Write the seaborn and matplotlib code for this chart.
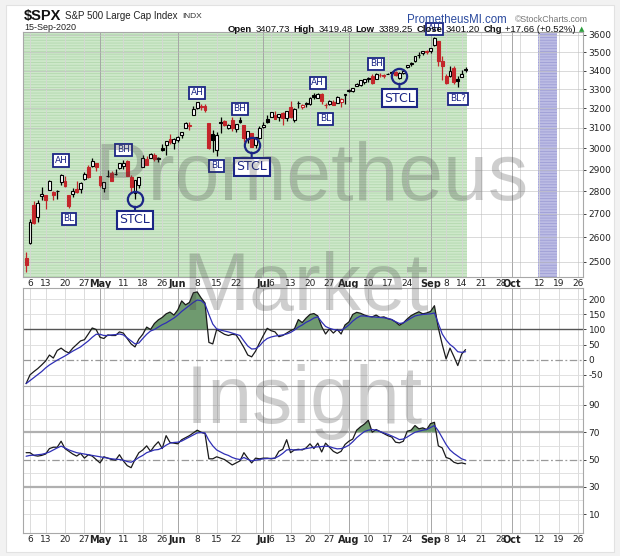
import numpy as np
import pandas as pd
import matplotlib
matplotlib.use("Agg")
import matplotlib.pyplot as plt
from matplotlib.patches import Rectangle
from matplotlib.ticker import FixedLocator, FixedFormatter, NullLocator
import seaborn as sns

sns.set_style("white")
plt.rcParams["font.family"] = ["DejaVu Sans"]
plt.rcParams["hatch.linewidth"] = 0.6

# SPX daily bars, 3-Apr-2020 .. 15-Sep-2020
prev_close = 2526.90
opens = [2514.92, 2578.28, 2738.65, 2685.00, 2776.99, 2782.46, 2805.10, 2795.64, 2799.34, 2842.43,
         2845.62, 2784.81, 2787.89, 2810.42, 2812.64, 2854.65, 2909.96, 2918.46, 2930.91,
         2869.09, 2815.01, 2868.88, 2883.14, 2878.26, 2908.83, 2915.46, 2939.50, 2865.86, 2794.54,
         2829.95, 2913.86, 2948.59, 2953.63, 2969.95, 2948.05, 3004.08, 3015.65, 3046.61, 3025.17,
         3038.78, 3064.78, 3098.90, 3111.56, 3163.84, 3199.92, 3213.32, 3213.42, 3123.53, 3071.04,
         2993.76, 3131.00, 3136.13, 3101.64, 3140.29, 3094.42, 3138.70, 3114.40, 3046.60, 3073.20,
         3018.59, 3050.20,
         3105.92, 3143.64, 3155.29, 3166.44, 3153.07, 3176.17, 3152.47, 3205.08, 3141.11, 3225.98,
         3208.36, 3224.21, 3224.29, 3268.52, 3254.86, 3271.64, 3218.58, 3219.84, 3234.27, 3227.22,
         3231.76, 3270.45,
         3288.26, 3289.92, 3317.37, 3323.17, 3340.05, 3356.04, 3370.34, 3355.46, 3372.95, 3368.66,
         3380.86, 3387.04, 3392.51, 3360.48, 3386.01, 3418.09, 3435.95, 3449.97, 3485.14, 3494.69,
         3509.73,
         3507.44, 3543.76, 3564.74, 3453.60, 3371.88, 3369.82, 3412.56, 3352.70, 3363.56, 3407.73]
highs = [2538.18, 2676.85, 2756.89, 2760.75, 2818.57, 2782.46, 2851.85, 2801.88, 2806.51, 2879.22,
         2868.98, 2785.54, 2815.10, 2844.90, 2842.71, 2887.72, 2921.15, 2954.86, 2930.91,
         2869.09, 2844.24, 2898.23, 2891.11, 2901.92, 2932.16, 2944.25, 2945.82, 2874.14, 2852.80,
         2865.01, 2968.09, 2964.21, 2980.29, 2978.50, 2956.76, 3021.72, 3036.25, 3068.67, 3049.17,
         3062.18, 3081.07, 3130.94, 3128.91, 3211.72, 3233.13, 3222.71, 3223.27, 3123.53, 3088.42,
         3079.76, 3153.45, 3141.16, 3120.00, 3155.53, 3120.92, 3154.90, 3115.01, 3086.25, 3073.73,
         3053.89, 3111.51,
         3128.44, 3165.81, 3182.59, 3184.15, 3171.80, 3179.78, 3186.82, 3235.32, 3200.95, 3238.28,
         3220.39, 3233.52, 3258.61, 3277.29, 3279.32, 3279.99, 3227.26, 3241.43, 3243.72, 3264.74,
         3250.92, 3272.17,
         3302.73, 3306.84, 3330.77, 3351.03, 3352.54, 3363.29, 3381.01, 3387.89, 3387.24, 3378.51,
         3387.59, 3395.06, 3399.54, 3390.80, 3399.96, 3432.09, 3444.21, 3481.07, 3501.38, 3509.23,
         3514.77,
         3528.03, 3588.11, 3564.85, 3479.15, 3379.97, 3424.77, 3425.55, 3368.95, 3402.93, 3419.48]
lows = [2459.96, 2574.57, 2657.67, 2663.30, 2762.36, 2721.17, 2805.10, 2761.54, 2764.32, 2830.88,
        2820.43, 2727.10, 2775.95, 2794.26, 2791.76, 2852.89, 2860.71, 2912.16, 2892.47,
        2821.61, 2797.85, 2863.55, 2847.65, 2876.48, 2902.88, 2903.44, 2869.59, 2793.15, 2766.64,
        2816.78, 2913.86, 2922.35, 2953.63, 2938.57, 2933.59, 2988.17, 2969.75, 3023.40, 2998.61,
        3031.54, 3051.64, 3098.90, 3090.41, 3163.84, 3196.00, 3193.11, 3181.49, 2999.49, 2984.47,
        2965.66, 3076.06, 3108.03, 3093.51, 3083.11, 3079.39, 3127.12, 3032.13, 3024.01, 3004.63,
        2999.74, 3047.83,
        3101.17, 3124.52, 3155.29, 3142.93, 3136.53, 3115.70, 3136.22, 3149.43, 3127.66, 3200.76,
        3198.59, 3205.65, 3215.16, 3247.77, 3253.10, 3222.66, 3200.05, 3214.25, 3216.17, 3227.22,
        3204.13, 3220.26,
        3284.53, 3286.37, 3317.37, 3318.14, 3328.72, 3335.44, 3326.44, 3355.46, 3363.35, 3361.64,
        3379.22, 3370.15, 3369.66, 3354.69, 3379.31, 3413.13, 3425.84, 3444.15, 3468.35, 3484.32,
        3493.25,
        3494.60, 3535.23, 3427.41, 3349.63, 3329.27, 3366.84, 3329.25, 3310.47, 3363.56, 3389.25]
closes = [2488.65, 2663.68, 2659.41, 2749.98, 2789.82, 2761.63, 2846.06, 2783.36, 2799.55, 2874.56,
          2823.16, 2736.56, 2799.31, 2797.80, 2836.74, 2878.48, 2863.39, 2939.51, 2912.43,
          2830.71, 2842.74, 2868.44, 2848.42, 2881.19, 2929.80, 2930.32, 2870.12, 2820.00, 2852.50,
          2863.70, 2953.91, 2922.94, 2971.61, 2948.51, 2955.45, 2991.77, 3036.13, 3029.73, 3044.31,
          3055.73, 3080.82, 3122.87, 3112.35, 3193.93, 3232.39, 3207.18, 3190.14, 3002.10, 3041.31,
          3066.59, 3124.74, 3113.49, 3115.34, 3097.74, 3117.86, 3131.29, 3050.33, 3083.76, 3009.05,
          3053.24, 3100.29,
          3115.86, 3130.01, 3179.72, 3145.32, 3169.94, 3152.05, 3185.04, 3155.22, 3197.52, 3226.56,
          3215.57, 3224.73, 3251.84, 3257.30, 3276.02, 3235.66, 3215.63, 3239.41, 3218.44, 3258.44,
          3246.22, 3271.12,
          3294.61, 3306.51, 3327.77, 3349.16, 3351.28, 3360.47, 3333.69, 3380.35, 3373.43, 3372.85,
          3381.99, 3389.78, 3374.85, 3385.51, 3397.16, 3431.28, 3443.62, 3478.73, 3484.55, 3508.01,
          3500.31,
          3526.65, 3580.84, 3455.06, 3426.96, 3331.84, 3398.96, 3339.19, 3340.97, 3383.54, 3401.20]

# indicator panels (one value per bar)
cci = [-80, -51, -40, -30, -18, -5, 15, 5, 30, 38, 28, 22, 38, 50, 62, 66, 85, 105, 100, 74,
       70, 82, 80, 80, 92, 88, 70, 52, 42, 68, 84, 108, 100, 120, 132, 140, 152, 158, 148, 165,
       195, 182, 190, 222, 225, 205, 188, 57, 52, 100, 92, 84, 80, 84, 82, 62, 40, 15, 9, 28,
       55, 80, 104, 96, 92, 76, 80, 88, 96, 102, 133, 123, 138, 150, 153, 145, 110, 85, 102, 88,
       100, 85, 115, 125, 150, 157, 154, 148, 144, 142, 148, 140, 142, 136, 133, 125, 114, 122, 135, 146,
       153, 159, 152, 155, 160, 179, 105, 50, 2, 38, 10, -20, 18, 33]
cci_ma = [-80, -70, -60, -50, -40, -28, -18, -10, -2, 5, 12, 20, 28, 35, 42, 52, 62, 74, 84, 84,
          80, 80, 82, 83, 85, 82, 72, 62, 52, 55, 70, 84, 95, 100, 108, 116, 122, 130, 138, 148,
          160, 170, 180, 190, 198, 196, 185, 150, 118, 102, 98, 95, 92, 88, 84, 80, 62, 45, 35, 36,
          45, 60, 70, 75, 78, 80, 82, 85, 90, 98, 108, 115, 124, 130, 138, 142, 125, 110, 104, 100,
          98, 97, 105, 115, 128, 138, 145, 145, 143, 142, 141, 140, 139, 137, 133, 126, 120, 122, 130, 138,
          145, 148, 150, 151, 152, 155, 120, 85, 65, 50, 40, 26, 24, 26]
rsi = [55, 55, 53, 52.5, 53, 54, 58, 59, 59, 63.4, 58, 56, 54, 52.5, 54.5, 51, 53.5, 52.5, 50, 47.5,
       52, 51, 50, 49.5, 53.5, 49, 45.5, 44, 50, 55, 57, 60, 56, 60, 63, 58, 67.5, 62.5, 62, 61.5,
       64.5, 66, 67.5, 69.5, 71.5, 70, 69, 50.5, 50.5, 52, 51, 50, 48, 46, 47.5, 49, 55, 51, 47.5, 51,
       50.5, 51, 51, 50.5, 51, 56, 57.5, 64.5, 55, 57, 57.5, 57, 58.5, 61.5, 58, 62, 55.5, 62, 59, 56,
       54.5, 56, 61, 63.4, 65, 71.5, 74, 76, 78.8, 70, 72, 70.5, 69, 67.5, 66.5, 62.7, 62.2, 63.4, 70.7, 71.5,
       74.9, 72.5, 73.2, 72, 76.3, 77.3, 60, 58.5, 51.5, 50.5, 48, 47, 47.5, 46.8]
rsi_ma = [52.4, 53, 53.2, 53.5, 53.8, 54.5, 55.5, 57, 58.5, 59.8, 58.5, 57, 56, 55, 54.5, 54, 53.5, 53, 52.5, 52,
          51.5, 51, 50.5, 50.2, 50, 49.5, 48.5, 48, 49.5, 51.5, 53, 55, 56, 57, 57.3, 58.5, 60.5, 62, 62.5, 62.7,
          63.5, 65, 66.5, 68, 69.5, 69.7, 69.5, 64, 60, 57, 55.5, 54, 53, 51.5, 50.5, 50, 51.5, 50, 49, 49.5,
          50, 50.5, 50.7, 50.8, 51, 52.5, 54.5, 57, 57.3, 57, 57, 57.5, 58, 58.5, 59, 59.3, 59.5, 59.8, 59.5, 58.5,
          57.8, 58, 59, 60.5, 63, 66, 68.3, 70.5, 71.5, 72, 71.5, 70.5, 69.5, 68.5, 67.3, 66, 64.6, 65, 66.5, 68.3,
          70, 70.7, 71.5, 72, 73.5, 74.9, 71, 66, 61, 57, 54.5, 52.5, 50.5, 49.5]

holidays = ["2020-04-10", "2020-05-25", "2020-07-03", "2020-09-07"]
tick_dates = ["2020-04-06", "2020-04-13", "2020-04-20", "2020-04-27", "2020-05-01", "2020-05-11",
              "2020-05-18", "2020-05-26", "2020-06-01", "2020-06-08", "2020-06-15", "2020-06-22",
              "2020-07-01", "2020-07-06", "2020-07-13", "2020-07-20", "2020-07-27", "2020-08-03",
              "2020-08-10", "2020-08-17", "2020-08-24", "2020-09-01", "2020-09-08", "2020-09-14",
              "2020-09-21", "2020-09-28", "2020-10-01", "2020-10-12", "2020-10-19", "2020-10-26"]
tick_labels = ["6", "13", "20", "27", "May", "11", "18", "26", "Jun", "8", "15", "22", "Jul", "6",
               "13", "20", "27", "Aug", "10", "17", "24", "Sep", "8", "14", "21", "28", "Oct",
               "12", "19", "26"]
month_labels = ["May", "Jun", "Jul", "Aug", "Sep", "Oct"]

# (label, date, price)
markers = [("AH", "2020-04-17", 2942), ("BL", "2020-04-21", 2679), ("BH", "2020-05-11", 2993),
           ("AH", "2020-06-08", 3280), ("BL", "2020-06-15", 2917), ("BH", "2020-06-23", 3197),
           ("AH", "2020-07-22", 3333), ("BL", "2020-07-24", 3146), ("BH", "2020-08-12", 3436),
           ("AH", "2020-09-02", 3635), ("BL?", "2020-09-11", 3248)]
# (date, circle price, label price)
stcl = [("2020-05-14", 2766, 2675), ("2020-06-26", 3017, 2912), ("2020-08-20", 3370, 3253)]

# trading calendar
days = pd.bdate_range("2020-04-03", "2020-10-30")
days = days[~days.isin(pd.to_datetime(holidays))]
pos = {d.strftime("%Y-%m-%d"): k for k, d in enumerate(days)}
week_starts = [k for k in range(1, len(days)) if days[k].weekday() < days[k - 1].weekday()]
month_starts = [k for k in range(1, len(days)) if days[k].month != days[k - 1].month]
ticks = [pos[d] for d in tick_dates]

W, H = 620, 556
def fx(x):
    return x / W
def fy(y):
    return 1 - y / H

fig = plt.figure(figsize=(6.2, 5.56), dpi=100)
fig.patch.set_facecolor("#f2f2f2")
fig.patches.append(Rectangle((fx(6), fy(552)), fx(608), 547 / H, transform=fig.transFigure,
                             facecolor="white", edgecolor="#e2e2e2", lw=0.8, zorder=-1))

left, width = fx(23), 560 / W
ax1 = fig.add_axes([left, fy(277), width, 245 / H])
ax2 = fig.add_axes([left, fy(386), width, 98 / H])
ax3 = fig.add_axes([left, fy(533), width, 147 / H])

x = np.arange(len(closes))
last = len(closes) - 1
xlim = (-0.8, 143.2)
navy = "#1b2585"

for ax in (ax1, ax2, ax3):
    ax.set_xlim(*xlim)
    ax.set_facecolor("white")
    for s in ax.spines.values():
        s.set_color("#a8a8a8")
        s.set_linewidth(0.8)
    for k in week_starts:
        ax.axvline(k, color="#d6d6d6", lw=0.6, zorder=0.5)
    for k in month_starts:
        ax.axvline(k, color="#a6a6a6", lw=0.7, zorder=0.6)
    ax.yaxis.tick_right()
    ax.tick_params(axis="y", labelsize=6.5, length=2, pad=2, colors="#222222", width=0.6)
    ax.tick_params(axis="x", labelsize=6.5, length=0, pad=1.5, colors="#222222")
    ax.xaxis.set_major_locator(FixedLocator(ticks))
    ax.xaxis.set_major_formatter(FixedFormatter(tick_labels))

# ---- price panel
ax1.set_yscale("log")
ax1.set_ylim(2440, 3617)
ax1.axvspan(xlim[0], last + 0.5, facecolor="#cde8c9", edgecolor="#b3d8ae", hatch="------", lw=0, zorder=0.2)
ax1.axvspan(pos["2020-10-12"] - 0.5, pos["2020-10-16"] + 0.5, facecolor="#bcbce4",
            edgecolor="#9e9ed6", hatch="------", lw=0, zorder=0.2)
price_ticks = list(range(2500, 3700, 100))
for p in price_ticks:
    ax1.axhline(p, color="#bdbdbd", lw=0.5, alpha=0.8, zorder=0.7)
ax1.yaxis.set_major_locator(FixedLocator(price_ticks))
ax1.yaxis.set_major_formatter(FixedFormatter([str(p) for p in price_ticks]))
ax1.yaxis.set_minor_locator(NullLocator())

o, h, l, c = map(np.array, (opens, highs, lows, closes))
pc = np.r_[prev_close, c[:-1]]
col = np.where(c >= pc, "black", "#c3262b")
hollow = c >= o
ax1.vlines(x, l, h, colors=col, lw=0.9, zorder=3)
body = np.maximum(np.abs(c - o), 2.5)
ax1.bar(x, body, bottom=np.minimum(o, c), width=0.72, color=np.where(hollow, "white", col),
        edgecolor=col, linewidth=0.8, zorder=4)

box_small = dict(boxstyle="square,pad=0.2", fc="white", ec=navy, lw=1.3)
for lab, d, p in markers:
    ax1.text(pos[d], p, lab, fontsize=6.5, color=navy, ha="center", va="center",
             bbox=box_small, zorder=6, clip_on=False)
for d, pcirc, plab in stcl:
    k = pos[d]
    ax1.plot(k, pcirc, marker="o", ms=11, mfc="none", mec=navy, mew=1.6, zorder=6)
    ax1.annotate("STCL", xy=(k, pcirc), xytext=(k, plab), fontsize=9, color=navy,
                 ha="center", va="center", zorder=6,
                 bbox=dict(boxstyle="square,pad=0.2", fc="white", ec=navy, lw=1.5),
                 arrowprops=dict(arrowstyle="-", color=navy, lw=1.5, shrinkA=0, shrinkB=5.5))

# ---- CCI panel
ax2.set_ylim(-88, 238)
for g in (200, 150, 50, -50):
    ax2.axhline(g, color="#dcdcdc", lw=0.6, zorder=0.5)
ax2.axhline(100, color="#555555", lw=1.0, zorder=1)
ax2.axhline(0, color="#9a9a9a", lw=0.9, ls=(0, (6, 2, 1.5, 2)), zorder=1)
cci_a = np.array(cci, float)
ax2.fill_between(x, cci_a, 100, where=cci_a > 100, interpolate=True, color="#6f9a6f", lw=0, zorder=2)
sns.lineplot(x=x, y=cci_a, color="#1a1a1a", lw=0.9, ax=ax2, zorder=3)
sns.lineplot(x=x, y=np.array(cci_ma, float), color="#2f2fb5", lw=0.9, ax=ax2, zorder=4)
cci_ticks = [200, 150, 100, 50, 0, -50]
ax2.yaxis.set_major_locator(FixedLocator(cci_ticks))
ax2.yaxis.set_major_formatter(FixedFormatter([str(t) for t in cci_ticks]))
ax2.tick_params(axis="x", labelbottom=False)

# ---- RSI panel
ax3.set_ylim(-3.9, 103.9)
for g in (90, 80, 60, 40, 20, 10):
    ax3.axhline(g, color="#dcdcdc", lw=0.6, zorder=0.5)
ax3.axhline(70, color="#b0b0b0", lw=1.6, zorder=1)
ax3.axhline(30, color="#b0b0b0", lw=1.6, zorder=1)
ax3.axhline(50, color="#9a9a9a", lw=0.9, ls=(0, (6, 2, 1.5, 2)), zorder=1)
rsi_a = np.array(rsi, float)
ax3.fill_between(x, rsi_a, 70, where=rsi_a > 70, interpolate=True, color="#6f9a6f", lw=0, zorder=2)
sns.lineplot(x=x, y=rsi_a, color="#1a1a1a", lw=0.9, ax=ax3, zorder=3)
sns.lineplot(x=x, y=np.array(rsi_ma, float), color="#2f2fb5", lw=0.9, ax=ax3, zorder=4)
rsi_ticks = [90, 70, 50, 30, 10]
ax3.yaxis.set_major_locator(FixedLocator(rsi_ticks))
ax3.yaxis.set_major_formatter(FixedFormatter([str(t) for t in rsi_ticks]))

for ax in (ax1, ax2, ax3):
    ax.set_xlabel("")
    ax.set_ylabel("")
    ax.set_xlim(*xlim)
for ax in (ax1, ax3):
    for lbl in ax.get_xticklabels():
        if lbl.get_text() in month_labels:
            lbl.set_fontweight("bold")
            lbl.set_fontsize(7)

# ---- header: pieces laid out one after another
renderer = fig.canvas.get_renderer()
def row(pieces, x0, y, gap=3, right=None):
    arts = []
    xp = x0
    for txt, size, weight, color in pieces:
        t = fig.text(fx(xp), fy(y), txt, fontsize=size, fontweight=weight, color=color,
                     va="center", family="Liberation Sans")
        xp += t.get_window_extent(renderer).width + gap
        arts.append(t)
    if right is not None:
        shift = right - (xp - gap)
        for t in arts:
            px, py = t.get_position()
            t.set_position((px + shift / W, py))
    return arts

row([("$SPX", 10.5, "bold", "#111111"), ("S&P 500 Large Cap Index", 7, "normal", "#222222"),
     ("INDX", 6, "normal", "#333333")], 24, 16, gap=4)
fig.text(fx(24), fy(28), "15-Sep-2020", fontsize=6.5, va="center", color="#222222",
         family="Liberation Sans")
row([("PrometheusMI.com", 8.3, "normal", "#2b4a9e"),
     ("\u00a9StockCharts.com", 6.3, "normal", "#777777")], 0, 20, gap=8, right=588)
quote = [("Open", 6.8, "bold", "#111111"), ("3407.73", 6.8, "normal", "#111111"),
         ("High", 6.8, "bold", "#111111"), ("3419.48", 6.8, "normal", "#111111"),
         ("Low", 6.8, "bold", "#111111"), ("3389.25", 6.8, "normal", "#111111"),
         ("Close", 6.8, "bold", "#111111"), ("3401.20", 6.8, "normal", "#111111"),
         ("Chg", 6.8, "bold", "#111111"), ("+17.66 (+0.52%)", 6.8, "normal", "#111111")]
row(quote, 0, 29, gap=3.5, right=576)
fig.text(fx(579), fy(29), "\u25b2", fontsize=5, va="center", color="#2e9e3e")

# ---- watermark
wm = dict(fontsize=58, family="Liberation Sans", color="#444444", alpha=0.26, ha="center",
          va="baseline", zorder=20)
fig.text(fx(311), fy(200), "Prometheus", **wm)
fig.text(fx(305), fy(310), "Market", **wm)
fig.text(fx(304), fy(423), "Insight", **wm)

fig.savefig("out.png", dpi=100, facecolor=fig.get_facecolor())
